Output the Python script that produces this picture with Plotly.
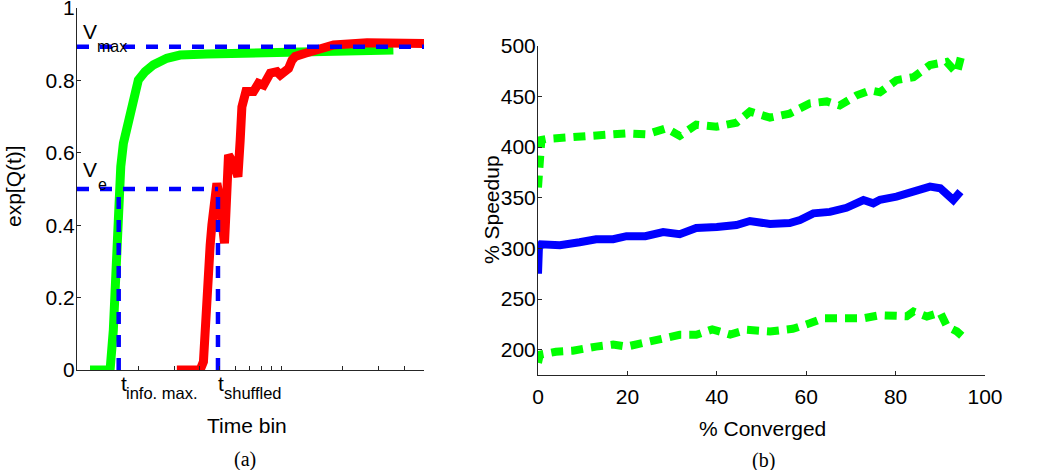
import plotly.graph_objects as go

# ---------------- data : panel (a) ----------------
green_a_x = [11.58, 14.52, 15.06, 15.53, 15.76, 15.94, 16.38, 16.87, 17.39, 17.85, 18.54,
             19.24, 19.97, 21.54, 23.66, 27.52, 31.98, 43.24, 70.47, 123.9, 217.9, 354.0]
green_a_y = [0.0, 0.0, 0.11, 0.268, 0.406, 0.506, 0.562, 0.626, 0.654, 0.686, 0.718,
             0.764, 0.801, 0.824, 0.843, 0.861, 0.870, 0.873, 0.876, 0.878, 0.882, 0.884]

red_a_x = [30.82, 40.08, 41.60, 42.42, 43.24, 43.63, 44.87, 45.74, 47.48, 48.40, 49.67,
           51.38, 52.74, 53.46, 54.19, 55.18, 58.40, 61.36, 62.95, 64.18, 67.14, 73.14,
           77.41, 81.9, 88.35, 95.3, 98.9, 108.6, 112.9, 117.1, 131.1, 146.8, 180.5,
           263.1, 500.0]
red_a_y = [0.0, 0.0, 0.023, 0.11, 0.249, 0.33, 0.345, 0.40, 0.48, 0.516, 0.48,
           0.42, 0.35, 0.42, 0.516, 0.594, 0.571, 0.534, 0.635, 0.727, 0.769, 0.769,
           0.792, 0.787, 0.82, 0.824, 0.815, 0.833, 0.856, 0.866, 0.875, 0.884, 0.898,
           0.904, 0.902]

v_max = 0.893
v_e = 0.5
t_info = 16.0
t_shuffled = 49.0
x_min_a, x_max_a = 10, 500

xtick_a = [10, 20, 30, 40, 50, 60, 70, 80, 90, 100, 200, 300, 400, 500]
ytick_a = [0, 0.2, 0.4, 0.6, 0.8, 1]

# ---------------- data : panel (b) ----------------
blue_b_x = [0, 0.2, 0.7, 4.9, 9.3, 13, 16.8, 19.8, 24, 28, 31.7, 35.4, 40, 44.4, 47.4,
            51.9, 56.3, 58.6, 61.6, 65.3, 69, 72.8, 75, 76.5, 80.2, 84, 87.7, 90, 92.2,
            92.9, 94.5]
blue_b_y = [275, 300, 304, 303, 306, 309, 309, 312, 312, 316, 314, 320, 321, 323, 327,
            324, 325, 328, 334.5, 336, 340, 347.7, 344.4, 348, 351, 356, 360.9, 359.2, 349.3,
            347.7, 356]

upper_b_x = [0, 0.4, 0.75, 1.9, 6.3, 10.8, 15.3, 19.8, 24.3, 28.7, 31.7, 35.4, 39.9, 44.4,
             47.4, 51.9, 56.3, 60.8, 64.6, 67.5, 71.3, 74.3, 76.5, 80.2, 84, 87.7, 91.4,
             93.7, 94.8]
upper_b_y = [360, 387, 407, 408, 409, 412, 412.5, 413.5, 412.5, 418.5, 411, 422, 420, 424,
             435, 429, 433, 443, 445, 441, 451, 456, 454, 466, 469, 481, 484, 473, 492]

lower_b_x = [0, 0.4, 4, 7.8, 13, 16.8, 19.8, 24, 28.7, 31.7, 35.4, 39, 43, 46.6, 51.9, 57,
             60.8, 63.8, 67.5, 72.8, 76.5, 79.5, 82.5, 84, 87, 90, 91.5, 93.7, 94.8]
lower_b_y = [187, 195, 198, 199, 203, 205, 203, 206.5, 211.5, 214.7, 214.7, 220, 215, 219.6,
             218, 220.6, 226, 231, 231, 231, 234, 234, 233, 237.6, 232.7, 236.6, 223, 218,
             213.7]

xtick_b = [0, 20, 40, 60, 80, 100]
ytick_b = [200, 250, 300, 350, 400, 450, 500]

# ---------------- figure ----------------
W, H = 1050, 470
GREEN, RED, BLUE = "#00FF00", "#FF0000", "#0000FF"
AXC = "#262626"
FONT = "Liberation Sans, Arial, sans-serif"
SERIF = "Liberation Serif, Times New Roman, serif"


def px(x):
    return x / W


def py(y):
    return 1 - y / H


fig = go.Figure()

# panel (a)
fig.add_trace(go.Scatter(x=green_a_x, y=green_a_y, mode="lines",
                         line=dict(color=GREEN, width=9), xaxis="x", yaxis="y"))
fig.add_trace(go.Scatter(x=red_a_x, y=red_a_y, mode="lines",
                         line=dict(color=RED, width=9), xaxis="x", yaxis="y"))
dash_a = dict(color=BLUE, width=4.5, dash="12px,11px")
fig.add_trace(go.Scatter(x=[x_min_a, x_max_a], y=[v_max, v_max], mode="lines",
                         line=dash_a, xaxis="x", yaxis="y"))
fig.add_trace(go.Scatter(x=[x_min_a, t_shuffled], y=[v_e, v_e], mode="lines",
                         line=dash_a, xaxis="x", yaxis="y"))
fig.add_trace(go.Scatter(x=[t_info, t_info], y=[0, v_e], mode="lines",
                         line=dash_a, xaxis="x", yaxis="y"))
fig.add_trace(go.Scatter(x=[t_shuffled, t_shuffled], y=[0, v_e], mode="lines",
                         line=dash_a, xaxis="x", yaxis="y"))

# panel (b)
dash_b = dict(color=GREEN, width=8, dash="12px,8px")
fig.add_trace(go.Scatter(x=upper_b_x, y=upper_b_y, mode="lines",
                         line=dash_b, xaxis="x2", yaxis="y2"))
fig.add_trace(go.Scatter(x=lower_b_x, y=lower_b_y, mode="lines",
                         line=dash_b, xaxis="x2", yaxis="y2"))
fig.add_trace(go.Scatter(x=blue_b_x, y=blue_b_y, mode="lines",
                         line=dict(color=BLUE, width=8), xaxis="x2", yaxis="y2"))

axis_common = dict(showline=True, linecolor=AXC, linewidth=1, ticks="inside",
                   ticklen=4, tickcolor=AXC, showgrid=False, zeroline=False,
                   tickfont=dict(family=FONT, size=21, color="black"), mirror=False,
                   ticklabeloverflow="allow")

fig.update_layout(
    width=W, height=H,
    margin=dict(l=0, r=0, t=0, b=0, autoexpand=False),
    paper_bgcolor="white", plot_bgcolor="white",
    showlegend=False,
    xaxis=dict(axis_common, type="log", domain=[px(77), px(424)],
               range=[1, 2.69897], tickvals=xtick_a, showticklabels=False,
               anchor="y"),
    yaxis=dict(axis_common, domain=[py(370), py(8)], range=[0, 1],
               tickvals=ytick_a, anchor="x", ticklabelstandoff=-3),
    xaxis2=dict(axis_common, domain=[px(538), px(985)], range=[0, 100],
                tickvals=xtick_b, anchor="y2", ticklabelstandoff=3),
    yaxis2=dict(axis_common, domain=[py(375), py(45.7)], range=[175, 500],
                tickvals=ytick_b, anchor="x2", ticklabelstandoff=-3),
)

ann = []


def text(x, y, s, size=21, family=FONT, angle=0, xa="center", ya="middle"):
    ann.append(dict(x=px(x), y=py(y), xref="paper", yref="paper", text=s,
                    showarrow=False, textangle=angle, xanchor=xa, yanchor=ya,
                    font=dict(family=family, size=size, color="black")))


# symbol + subscript labels (drawn as separate texts for exact placement)
text(81, 31, "V", xa="left")
text(95, 46, "max", size=16, xa="left")
text(81, 170, "V", xa="left")
text(96, 185, "e", size=16, xa="left")
text(119, 383, "t", xa="left")
text(124, 393, "info. max.", size=16.5, xa="left")
text(216, 383, "t", xa="left")
text(222, 393, "shuffled", size=16.5, xa="left")

text(13, 186, "exp[Q(t)]", angle=-90)
text(247, 425, "Time bin")
text(245, 459, "(a)", size=20, family=SERIF)
text(491, 210, "% Speedup", angle=-90)
text(762, 428, "% Converged")
text(763, 460, "(b)", size=20, family=SERIF)

fig.update_layout(annotations=ann)
fig.write_html("out.html", config={"displayModeBar": False},
               post_script="document.body.style.margin='0';")
